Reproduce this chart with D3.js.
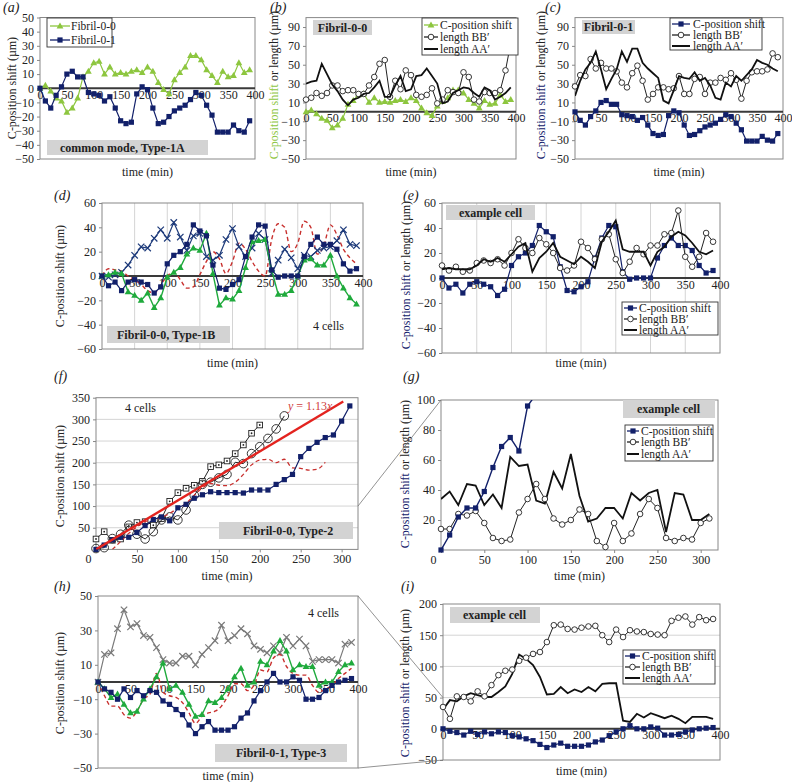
<!DOCTYPE html>
<html><head><meta charset="utf-8">
<script src="https://cdn.jsdelivr.net/npm/d3@7"></script>
<style>body{margin:0;background:#fff}svg{display:block}</style>
</head><body><svg id="c" width="792" height="782"></svg>
<script>
// ---------- DATA ----------
const minutes = [0,10,20,30,40,50,60,70,80,90,100,110,120,130,140,150,160,170,180,190,200,210,220,230,240,250,260,270,280,290,300,310,320,330,340,350,360,370,380,390];
// Type-1A (a, b, c)
const fibril00Shift = [0,2,-2,-7,-9,-17,-14,-7,8,12,18,19,10,15,10,11,10,12,13,11,15,12,4,-1,-4,6,11,15,23,23,20,13,9,4,12,8,9,18,11,13];
const fibril01Shift = [0,-9,-14,-5,1,10,12,8,8,-3,-4,-5,-9,-6,-14,-23,-25,-24,-4,1,-1,-14,-25,-24,-20,-16,-14,-12,-8,-3,-5,-12,-19,-31,-31,-31,-26,-30,-31,-23];
const bLengthBB = [13,15,20,17,20,28,28,22,23,23,19,19,28,37,51,55,16,33,24,44,39,18,16,18,25,9,13,23,21,20,42,37,13,11,21,20,20,23,44,73];
const bLengthAA = [30,32,33,51,40,29,22,13,7,13,15,19,20,26,33,16,16,28,38,22,24,38,39,46,38,30,9,11,20,23,26,25,20,16,26,23,13,16,20,26];
const cLengthBB = [27,39,38,56,46,52,46,46,43,31,26,41,49,33,13,19,26,26,24,25,38,19,19,35,37,19,31,31,36,34,41,34,14,33,42,43,43,45,62,58];
const cLengthAA = [17,33,45,52,64,45,24,35,45,64,53,67,67,52,46,41,36,12,9,23,38,36,35,42,33,36,28,15,13,31,27,38,33,39,45,55,52,50,46,43];
// Type-1B (d, e)
const type1bShift = [0,-8,-5,-12,-5,-3,-5,-7,-14,-9,10,17,20,26,42,37,33,9,-10,-11,-7,-3,16,32,42,41,5,-1,0,0,0,16,26,32,26,26,22,10,4,6];
const dCellGreen = [0,1,3,2,-13,-16,-20,-14,-26,-18,-1,3,7,18,23,21,35,2,-24,-18,-19,-12,7,28,29,30,5,-15,-15,-12,0,13,14,9,9,17,0,-10,-18,-23];
const dCellCross = [0,-1,1,3,9,17,24,23,31,38,31,44,32,21,33,35,16,13,17,30,39,24,16,23,35,30,2,13,22,15,6,17,16,21,23,24,29,38,26,25];
const dCellRed = [0,6,5,4,0,-3,-7,-12,-14,-7,0,3,-3,-10,-9,1,12,20,14,2,12,27,22,12,4,0,30,43,40,20,27,45,40,18,25,42,34,22,15,10];
const eLengthBB = [10,6,9,5,6,12,14,12,15,10,20,31,24,20,32,27,20,8,6,10,29,24,15,31,35,15,4,13,24,19,26,26,35,36,54,17,9,17,36,29];
const eLengthAA = [7,8,7,7,7,10,15,13,16,13,19,25,28,5,16,21,28,17,14,11,17,13,8,29,37,46,23,21,21,21,10,21,25,33,37,34,28,21,19,22];
// Type-2 (f, g)
const type2Shift = [0,10,22,28,28,39,55,69,75,66,96,104,118,126,133,131,131,131,130,137,137,137,150,161,173,214,233,247,258,264,296,331];
const fCellSquare = [24,41,21,24,52,62,64,56,71,111,131,141,148,157,191,195,204,221,241,268,287];
const fCellCircle = [2,4,25,35,56,35,24,41,68,75,68,91,125,150,155,165,173,201,198,221,237,256,278,308];
const fRedMinutes = [20,30,40,50,60,70,80,90,100,110,120,130,140,150,160,170,180,190,200,210,220,230,240,250,260,270,280];
const fCellRed = [0,18,37,52,64,68,73,83,95,106,125,142,152,148,147,155,173,195,206,208,200,208,188,187,183,185,201];
const fitSlope = 1.13, fitRange = [0, 302];
const gLengthBB = [14,14,24,23,26,18,8,6,7,25,34,44,34,21,17,20,27,24,6,2,18,6,11,24,34,28,8,6,8,7,18,21];
const gLengthAA = [34,39,30,44,43,30,37,28,62,56,57,33,31,52,41,64,36,19,21,28,28,21,38,33,38,40,12,38,37,20,20,24];
// Type-3 (h, i)
const type3Shift = [0,-4,-6,-10,-4,-9,-5,-8,-5,-6,-11,-13,-16,-19,-25,-30,-26,-23,-28,-28,-28,-26,-21,-18,-11,-5,0,5,0,0,3,1,-10,-10,-9,-5,-2,0,1,2];
const hCellGreen = [0,-4,-9,-7,-13,-18,-17,-10,-4,3,11,-4,-2,-6,-13,-20,-19,-11,-12,-9,-4,3,8,-2,0,12,10,18,24,18,7,10,9,9,-2,0,0,6,10,11];
const hCellCross = [0,16,17,31,42,32,34,27,26,20,13,11,11,15,15,10,16,20,24,33,24,27,31,28,21,19,17,21,17,26,21,25,21,12,13,13,13,11,22,23];
const hCellRed = [0,-8,-14,-14,-19,-21,-17,-10,-7,5,-6,-8,-9,-12,-18,-24,-20,-18,-17,-14,-8,-1,-1,-5,-2,7,6,14,16,9,5,4,4,-2,-6,-4,-2,2,5,8];
const iLengthBB = [35,16,52,51,44,60,52,70,86,93,95,109,114,120,123,139,166,167,160,159,162,164,165,150,139,159,147,158,156,155,152,151,150,173,178,180,167,179,174,176];
const iLengthAA = [31,46,44,52,57,54,51,51,59,68,88,119,112,102,83,55,56,67,57,63,59,67,60,72,73,73,13,11,24,18,25,21,17,21,16,9,19,19,19,16];

const tick10 = [-50,-40,-30,-20,-10,0,10,20,30,40,50];
const tickOdd = [-50,-30,-10,10,30,50,70,90];
const tick20 = [-60,-40,-20,0,20,40,60];
const tickX400 = [0,50,100,150,200,250,300,350,400];
const tickX300 = [0,50,100,150,200,250,300];

// ---------- DRAW ----------
const FONT = '"Liberation Serif","Times New Roman","DejaVu Serif",serif';
const svg = d3.select('#c');
const LG='#8dc63f', NAVY='#12206a', GREEN='#1faa3c', RED='#c8302e', XNAVY='#1d3a7a', XGREY='#7a7a7a';
const fmt = d => d < 0 ? '\u2212' + Math.abs(d) : String(d);

function panel(p){
  const x = d3.scaleLinear().domain(p.xd).range([p.l,p.r]);
  const y = d3.scaleLinear().domain(p.yd).range([p.b,p.t]);
  const g = svg.append('g');
  const defs = svg.append('defs');
  defs.append('clipPath').attr('id','cl'+p.id).append('rect').attr('x',p.l).attr('y',p.t).attr('width',p.r-p.l).attr('height',p.b-p.t);
  defs.append('clipPath').attr('id','cm'+p.id).append('rect').attr('x',p.l-5).attr('y',p.t-(p.tightTop?0:5)).attr('width',p.r-p.l+10).attr('height',p.b-p.t+10);
  if(p.vgrid) g.selectAll(null).data(p.vgrid).join('line').attr('x1',d=>x(d)).attr('x2',d=>x(d)).attr('y1',p.t).attr('y2',p.b).attr('stroke','#d4d4d4');
  if(p.hgrid) g.selectAll(null).data(p.hgrid).join('line').attr('y1',d=>y(d)).attr('y2',d=>y(d)).attr('x1',p.l).attr('x2',p.r).attr('stroke','#d4d4d4');
  g.append('rect').attr('x',p.l).attr('y',p.t).attr('width',p.r-p.l).attr('height',p.b-p.t).attr('fill','none').attr('stroke','#888');
  const ya = g.append('g').attr('transform',`translate(${p.l},0)`).call(d3.axisLeft(y).tickValues(p.yt).tickSize(3).tickPadding(3).tickFormat(fmt));
  ya.select('.domain').remove();
  ya.selectAll('line').attr('stroke','#888');
  ya.selectAll('text').attr('font-size',12).attr('fill','#222');
  const xAt = p.zero ? y(0) : p.b;
  if(p.zero) g.append('line').attr('x1',p.l).attr('x2',p.r).attr('y1',y(0)).attr('y2',y(0)).attr('stroke','#3a3a3a').attr('stroke-width',2);
  const xa = g.append('g').attr('transform',`translate(0,${xAt})`).call(d3.axisBottom(x).tickValues(p.xt).tickSize(p.zero?0:3).tickPadding(p.zero?2:2).tickFormat(fmt));
  xa.select('.domain').remove();
  xa.selectAll('line').attr('stroke','#888');
  xa.selectAll('text').attr('font-size',12).attr('fill','#222');
  if(p.shiftZero) xa.selectAll('text').filter(d=>d===0).attr('dx',-8);
  svg.append('text').attr('x',(p.l+p.r)/2).attr('y',p.xTitleY).attr('text-anchor','middle').attr('font-size',12).text('time (min)');
  const yt = svg.append('text').attr('transform',`translate(${p.yTitleX},${p.yTitleY}) rotate(-90)`).attr('text-anchor','middle').attr('font-size',12);
  if(p.yColorPart){
    yt.append('tspan').attr('fill',p.yColor).text('C-position shift');
    yt.append('tspan').text(' or length (\u00b5m)');
  } else yt.text('C-position shift (\u00b5m)');
  svg.append('text').attr('x',p.lab[0]).attr('y',p.lab[1]).attr('font-size',14).attr('font-style','italic').text(p.label);
  return {x,y,g,p,cl:`url(#cl${p.id})`,cm:`url(#cm${p.id})`};
}

function mark(sel, type, color, cx, cy){
  if(type==='sq') sel.append('rect').attr('x',cx-2.6).attr('y',cy-2.6).attr('width',5.2).attr('height',5.2).attr('fill',color);
  else if(type==='tri') sel.append('path').attr('d',`M${cx},${cy-3.6}L${cx+3.4},${cy+2.4}L${cx-3.4},${cy+2.4}Z`).attr('fill',color);
  else if(type==='circ') sel.append('circle').attr('cx',cx).attr('cy',cy).attr('r',2.8).attr('fill','#fff').attr('stroke','#222').attr('stroke-width',0.9);
  else if(type==='bcirc') sel.append('circle').attr('cx',cx).attr('cy',cy).attr('r',4.3).attr('fill','none').attr('stroke','#222').attr('stroke-width',0.9);
  else if(type==='osq'){ sel.append('rect').attr('x',cx-2.8).attr('y',cy-2.8).attr('width',5.6).attr('height',5.6).attr('fill','#fff').attr('stroke','#222').attr('stroke-width',0.9);
    sel.append('circle').attr('cx',cx).attr('cy',cy).attr('r',0.9).attr('fill','#222'); }
  else if(type==='x') sel.append('path').attr('d',`M${cx-3.2},${cy-3.2}L${cx+3.2},${cy+3.2}M${cx-3.2},${cy+3.2}L${cx+3.2},${cy-3.2}`).attr('stroke',color).attr('stroke-width',1.2);
}

function series(P, xs, ys, o){
  const pts = ys.map((v,i)=>[P.x(xs[i]),P.y(v)]);
  P.g.append('path').attr('clip-path',P.cl).datum(pts)
    .attr('d',d3.line().curve(o.curve||d3.curveLinear)).attr('fill','none')
    .attr('stroke',o.color).attr('stroke-width',o.w||1.2).attr('stroke-dasharray',o.dash||null);
  if(o.m){ const mg = P.g.append('g').attr('clip-path',P.cm); pts.forEach(d=>mark(mg,o.m,o.color,d[0],d[1])); }
}

function legend(x0,y0,w,h,items,sx0,sx1,tx){
  svg.append('rect').attr('x',x0).attr('y',y0).attr('width',w).attr('height',h).attr('fill','#fff').attr('stroke','#333').attr('stroke-width',0.9);
  items.forEach(it=>{
    svg.append('line').attr('x1',sx0).attr('x2',sx1).attr('y1',it.y).attr('y2',it.y).attr('stroke',it.color).attr('stroke-width',it.w||1.3);
    if(it.m) mark(svg,it.m,it.color,(sx0+sx1)/2,it.y);
    svg.append('text').attr('x',tx).attr('y',it.y+3.8).attr('font-size',11.5).text(it.text);
  });
}
function box(x,y,w,h,text,tx,fs){
  svg.append('rect').attr('x',x).attr('y',y).attr('width',w).attr('height',h).attr('fill','#d3d3d3');
  svg.append('text').attr('x',tx===undefined?x+w/2:tx).attr('y',y+h/2+4).attr('text-anchor',tx===undefined?'middle':'start').attr('font-size',fs||12).attr('font-weight','bold').text(text);
}

// ---- (a)
const A = panel({id:'a',l:40,r:255,t:17.5,b:159,xd:[0,400],yd:[-50,50],yt:tick10,xt:tickX400,zero:true,xTitleY:176,yTitleX:16,yTitleY:88,label:'(a)',lab:[3,12]});
series(A,minutes,fibril00Shift,{color:LG,m:'tri'});
series(A,minutes,fibril01Shift,{color:NAVY,m:'sq'});
legend(47,18,65,29,[{y:26,color:LG,m:'tri',text:'Fibril-0-0'},{y:40,color:NAVY,m:'sq',text:'Fibril-0-1'}],50,70,71);
box(47,140,161,15,'common mode, Type-1A',60,12);

// ---- (b)
const B = panel({id:'b',l:306,r:516,t:17.6,b:159,xd:[0,400],yd:[-50,100],yt:tickOdd,xt:tickX400,zero:true,xTitleY:176,yTitleX:278,yTitleY:85,yColorPart:true,yColor:LG,label:'(b)',lab:[270,12]});
series(B,minutes,fibril00Shift,{color:LG,m:'tri'});
series(B,minutes,bLengthBB,{color:'#222',m:'circ',w:1});
series(B,minutes,bLengthAA,{color:'#111',w:1.8});
box(313,20,59,15,'Fibril-0-0');
legend(422,18,96,37,[{y:25,color:LG,m:'tri',text:'C-position shift'},{y:37,color:'#222',m:'circ',text:'length BB\u2032'},{y:49,color:'#111',w:2,text:'length AA\u2032'}],424,438,440);

// ---- (c)
const C = panel({id:'c',l:575,r:783,t:17.6,b:159,xd:[0,400],yd:[-50,100],yt:tickOdd,xt:tickX400,zero:true,xTitleY:176,yTitleX:545,yTitleY:85,yColorPart:true,yColor:NAVY,label:'(c)',lab:[545,12]});
series(C,minutes,fibril01Shift,{color:NAVY,m:'sq'});
series(C,minutes,cLengthBB,{color:'#222',m:'circ',w:1});
series(C,minutes,cLengthAA,{color:'#111',w:1.8});
box(582,20,53,14,'Fibril-0-1');
legend(670,18,92,32,[{y:24,color:NAVY,m:'sq',text:'C-position shift'},{y:35,color:'#222',m:'circ',text:'length BB\u2032'},{y:46,color:'#111',w:2,text:'length AA\u2032'}],672,690,693);

// ---- (d)
const D = panel({id:'d',l:102,r:363,t:203,b:349,xd:[0,400],yd:[-60,60],yt:tick20,xt:tickX400,zero:true,vgrid:[50,100,150,200,250,300,350],xTitleY:367,yTitleX:64,yTitleY:276,label:'(d)',lab:[54,200]});
series(D,minutes,dCellRed,{color:RED,dash:'4,3',w:1.4,curve:d3.curveMonotoneX});
series(D,minutes,dCellCross,{color:XNAVY,m:'x'});
series(D,minutes,dCellGreen,{color:GREEN,m:'tri',w:1.4});
series(D,minutes,type1bShift,{color:NAVY,m:'sq'});
svg.append('text').attr('x',313).attr('y',330).attr('font-size',12).text('4 cells');
box(107,326,123,17,'Fibril-0-0, Type-1B',117,12);

// ---- (e)
const E = panel({id:'e',l:442,r:720,t:203,b:353,xd:[0,400],yd:[-60,60],yt:tick20,xt:tickX400,zero:true,vgrid:[50,100,150,200,250,300,350],xTitleY:367,yTitleX:410,yTitleY:275,yColorPart:true,yColor:NAVY,label:'(e)',lab:[403,200]});
series(E,minutes,type1bShift,{color:NAVY,m:'sq'});
series(E,minutes,eLengthBB,{color:'#222',m:'circ',w:1});
series(E,minutes,eLengthAA,{color:'#111',w:1.8});
box(446,205,89,15,'example cell',459);
legend(622,302,96,33,[{y:308,color:NAVY,m:'sq',text:'C-position shift'},{y:319,color:'#222',m:'circ',text:'length BB\u2032'},{y:330,color:'#111',w:2,text:'length AA\u2032'}],624,637,639);

// ---- (f)
const F = panel({id:'f',l:96,r:358,t:397.7,b:549.4,xd:[0,320],yd:[0,350],yt:[50,100,150,200,250,300,350],xt:tickX300,hgrid:[50,100,150,200,250,300],shiftZero:true,xTitleY:580,yTitleX:64,yTitleY:476,label:'(f)',lab:[54,381]});
series(F,minutes.slice(0,21),fCellSquare,{color:'#222',m:'osq',w:1});
series(F,minutes.slice(0,24),fCellCircle,{color:'#222',m:'bcirc',w:1});
series(F,fRedMinutes,fCellRed,{color:RED,dash:'4,3',w:1.3,curve:d3.curveMonotoneX});
series(F,minutes.slice(0,32),type2Shift,{color:NAVY,m:'sq'});
series(F,fitRange,fitRange.map(v=>v*fitSlope),{color:'#e3231f',w:2.4});
const fitLab = svg.append('text').attr('x',288).attr('y',410).attr('font-size',12).attr('fill','#d04040');
fitLab.append('tspan').attr('font-style','italic').text('y');
fitLab.append('tspan').text(' = 1.13');
fitLab.append('tspan').attr('font-style','italic').text('x');
svg.append('text').attr('x',125).attr('y',412).attr('font-size',12).text('4 cells');
box(219,522,134,17,'Fibril-0-0, Type-2',243,12);

// ---- (g)
const G = panel({id:'g',l:441,r:718,t:400,b:550,xd:[0,320],yd:[0,100],yt:[20,40,60,80,100],xt:tickX300,shiftZero:true,tightTop:true,xTitleY:580,yTitleX:409,yTitleY:474,yColorPart:true,yColor:NAVY,label:'(g)',lab:[403,381]});
series(G,minutes.slice(0,32),gLengthAA,{color:'#111',w:1.8});
series(G,minutes.slice(0,32),gLengthBB,{color:'#222',m:'circ',w:1});
series(G,minutes.slice(0,32),type2Shift,{color:NAVY,m:'sq',w:1.4});
box(623,400,92,18,'example cell',637);
legend(625,425,88,36,[{y:431,color:NAVY,m:'sq',text:'C-position shift'},{y:442,color:'#222',m:'circ',text:'length BB\u2032'},{y:454,color:'#111',w:2,text:'length AA\u2032'}],627,639,641);
svg.append('line').attr('x1',F.p.r).attr('y1',F.y(100)).attr('x2',G.p.l).attr('y2',G.y(100)).attr('stroke','#777').attr('stroke-width',0.8);

// ---- (h)
const H = panel({id:'h',l:98,r:358,t:596,b:768,xd:[0,400],yd:[-50,50],yt:[-50,-30,-10,10,30,50],xt:tickX400,zero:true,xTitleY:780,yTitleX:64,yTitleY:683,label:'(h)',lab:[54,591]});
series(H,minutes,hCellCross,{color:XGREY,m:'x'});
series(H,minutes,hCellRed,{color:RED,dash:'4,3',w:1.4,curve:d3.curveMonotoneX});
series(H,minutes,hCellGreen,{color:GREEN,m:'tri',w:1.4});
series(H,minutes,type3Shift,{color:NAVY,m:'sq'});
svg.append('text').attr('x',308).attr('y',617).attr('font-size',12).text('4 cells');
box(215,744,132,18,'Fibril-0-1, Type-3',236,12);

// ---- (i)
const I = panel({id:'i',l:443,r:720,t:604,b:760,xd:[0,400],yd:[-50,200],yt:[-50,0,50,100,150,200],xt:tickX400,zero:true,hgrid:[50,100,150],xTitleY:775,yTitleX:409,yTitleY:683,yColorPart:true,yColor:NAVY,label:'(i)',lab:[401,591]});
series(I,minutes,iLengthAA,{color:'#111',w:1.8});
series(I,minutes,iLengthBB,{color:'#222',m:'circ',w:1});
series(I,minutes,type3Shift,{color:NAVY,m:'sq'});
box(450,607,90,16,'example cell',463);
legend(623,650,92,34,[{y:656,color:NAVY,m:'sq',text:'C-position shift'},{y:667,color:'#222',m:'circ',text:'length BB\u2032'},{y:678,color:'#111',w:2,text:'length AA\u2032'}],625,640,642);
svg.append('line').attr('x1',H.p.r).attr('y1',H.p.t).attr('x2',I.p.l).attr('y2',I.y(50)).attr('stroke','#777').attr('stroke-width',0.8);
svg.append('line').attr('x1',H.p.r).attr('y1',H.p.b).attr('x2',I.p.l).attr('y2',I.p.b).attr('stroke','#777').attr('stroke-width',0.8);

// fonts for every text node
svg.selectAll('g').attr('font-family',null);
svg.selectAll('text').attr('font-family',FONT).style('font-family',FONT);
svg.selectAll('text').filter(function(){return !this.getAttribute('fill');}).attr('fill','#222');
</script></body></html>
